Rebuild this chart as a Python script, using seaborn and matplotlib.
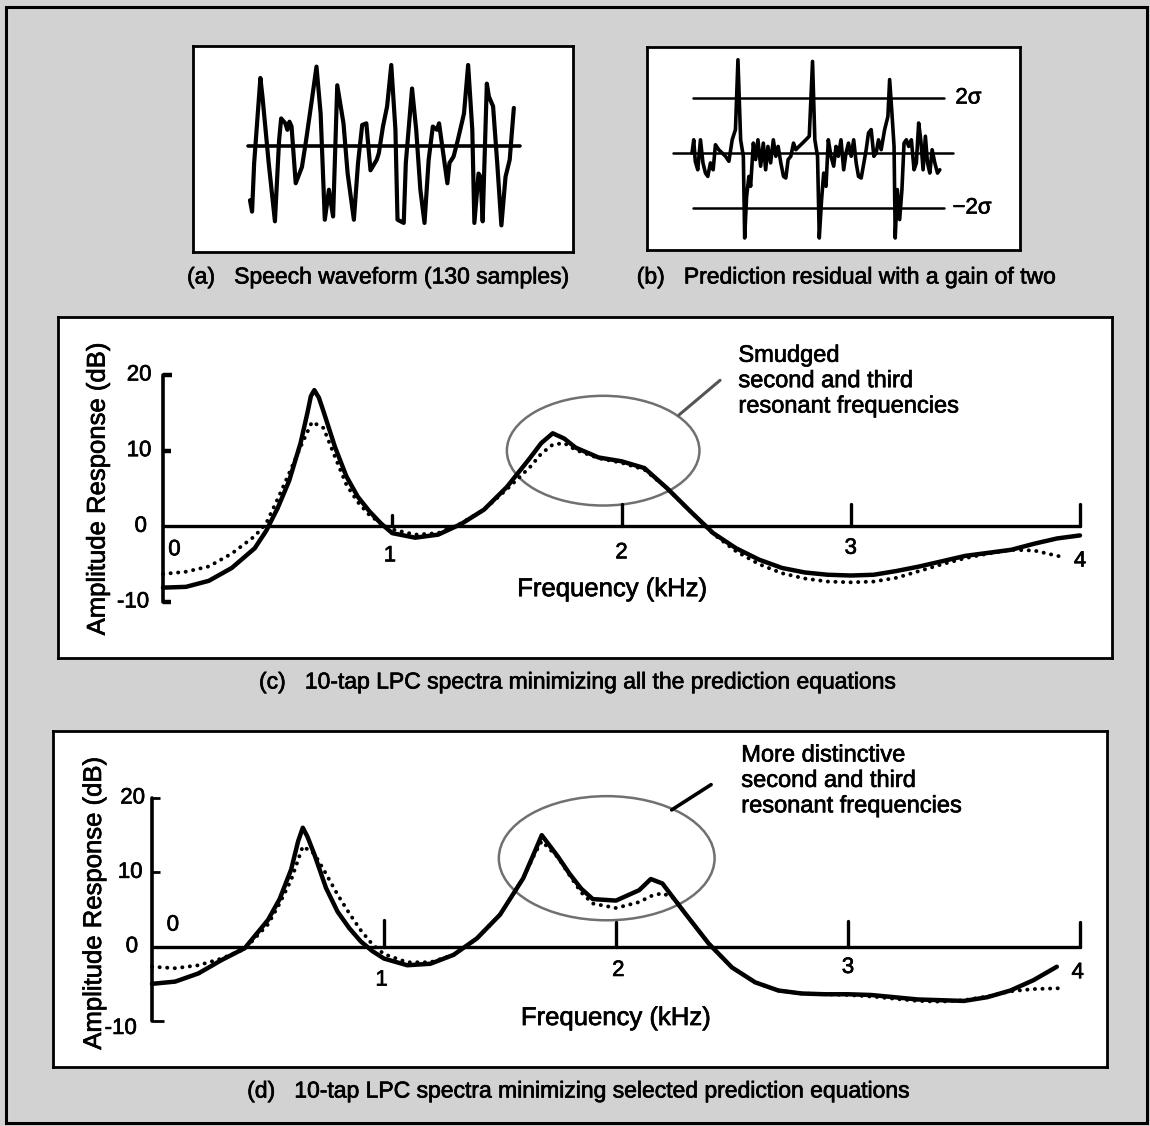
import numpy as np
import pandas as pd
import matplotlib
matplotlib.use("Agg")
import matplotlib.pyplot as plt
import matplotlib.patheffects as pe
from matplotlib.patches import Ellipse, Rectangle
import seaborn as sns

# (a) speech waveform, polyline vertices (sample index, amplitude)
wave_n = [0, 1, 2, 5, 6, 9, 12, 14, 15, 17, 18, 19, 20, 22, 25, 27, 30, 32, 34, 36, 38, 39, 40,
          42, 45, 47, 50, 52, 54, 56, 58, 61, 62, 64, 66, 68, 70, 71, 74, 75, 78, 80, 82, 84,
          86, 88, 90, 91, 95, 96, 98, 100, 103, 105, 107, 108, 110, 111, 112, 114, 115, 117,
          119, 121, 123, 125, 127]
wave_amp = [-0.67, -0.81, -0.21, 0.84, 0.61, -0.21, -0.93, 0.07, 0.34, 0.28, 0.20, 0.30, 0.24,
            -0.46, -0.26, 0.07, 0.61, 0.98, 0.40, -0.91, -0.54, -0.71, -0.87, 0.75, 0.28, -0.34,
            -0.91, -0.21, 0.26, 0.28, -0.30, -0.17, -0.09, 0.24, 0.49, 1.00, 0.20, -0.91, -0.95,
            -0.21, 0.71, 0.20, -0.54, -0.95, -0.17, 0.24, 0.20, 0.28, -0.46, -0.21, -0.13, 0.07,
            0.40, 1.00, 0.20, -0.95, -0.34, -0.38, -0.93, 0.77, 0.61, 0.49, -0.21, -0.98, -0.38,
            -0.17, 0.47]

# (b) prediction residual (sample position, value in sigma units)
resid_n = [0, 0.9, 1.7, 3.0, 4.4, 5.7, 7.0, 8.2, 9.6, 11.0, 12.2, 13.9, 15.7, 17.4, 19.2, 20.9,
           22.6, 23.9, 25.3, 26.7, 27.4, 28.4, 29.6, 30.5, 31.9, 33.1, 34.3, 35.7, 37.1, 38.3,
           39.5, 40.9, 42.3, 43.6, 44.8, 46.2, 47.6, 48.8, 50.0, 51.4, 52.8, 54.0, 55.7, 57.5,
           59.2, 61.0, 62.7, 63.9, 65.3, 66.2, 67.4, 68.5, 69.7, 70.9, 72.3, 73.7, 74.9, 76.1,
           77.5, 78.9, 80.1, 81.4, 82.8, 84.1, 85.4, 86.6, 88.0, 89.4, 90.6, 91.8, 93.2, 94.6,
           95.8, 97.0, 98.4, 100.2, 101.9, 102.8, 104.0, 105.1, 105.7, 106.8, 108.0, 109.2,
           110.3, 111.5, 112.7, 114.1, 115.5, 116.7, 117.9, 119.0, 120.2, 121.4, 122.5, 123.7,
           124.9, 126.3, 127.7, 128.9]
resid_sigma = [0, 0.48, -0.30, -0.61, 0.48, -0.36, -0.73, -0.85, -0.36, -0.61, 0.30, 0.12, 0,
               -0.12, -0.30, 0.48, 0.85, 3.39, 0.48, -0.12, -3.09, -1.58, -0.85, -1.21, 0.36,
               -0.24, 0.48, -0.48, 0.36, -0.61, 0.24, -0.36, 0.48, -0.12, 0.24, -0.36, -0.85,
               -0.91, -0.24, -0.12, 0.36, 0.12, 0.24, 0.36, 0.48, 0.61, 3.33, 0.48, -0.12, -3.09,
               -1.70, -0.73, -1.21, 0.48, -0.12, -0.48, 0.24, -0.12, 0.48, -0.61, 0, 0.36, -0.12,
               0.48, -0.36, -0.85, -0.91, -0.36, 0.12, 0.73, 0.85, -0.12, 0, 0.48, 0.12, 0.85,
               1.33, 2.67, 1.45, 0.24, -3.09, -1.33, -2.42, -1.33, 0.36, 0.48, 0.24, 0.48, -0.61,
               -0.36, 1.09, 0.48, -0.61, 0.61, -0.36, -0.73, 0.12, -0.36, -0.73, -0.61]

# (c) 10-tap LPC spectra, all equations (kHz, dB)
c_solid_f = [0, 0.1, 0.2, 0.3, 0.4, 0.45, 0.5, 0.55, 0.6, 0.63, 0.645, 0.66, 0.68, 0.7, 0.75,
             0.8, 0.85, 0.9, 0.95, 1.0, 1.1, 1.2, 1.3, 1.4, 1.5, 1.6, 1.65, 1.7, 1.75, 1.8, 1.9,
             2.0, 2.1, 2.2, 2.3, 2.4, 2.5, 2.6, 2.7, 2.8, 2.9, 3.0, 3.1, 3.2, 3.3, 3.4, 3.5, 3.6,
             3.7, 3.8, 3.9, 4.0]
c_solid_db = [-8.1, -8.0, -7.2, -5.5, -2.9, -0.6, 2.4, 6.0, 11.0, 15.0, 17.2, 18.0, 17.0, 15.2,
              10.5, 6.6, 3.9, 2.0, 0.4, -0.9, -1.5, -1.1, 0.3, 2.2, 5.2, 9.0, 11.0, 12.3, 11.6,
              10.4, 9.1, 8.6, 7.7, 5.0, 2.0, -0.9, -2.9, -4.4, -5.5, -6.1, -6.4, -6.5, -6.4,
              -5.9, -5.3, -4.6, -3.9, -3.5, -3.1, -2.3, -1.6, -1.2]
c_dot_f = [0, 0.1, 0.2, 0.3, 0.4, 0.45, 0.5, 0.55, 0.6, 0.65, 0.7, 0.75, 0.8, 0.85, 0.9, 0.95,
           1.0, 1.1, 1.2, 1.3, 1.4, 1.5, 1.6, 1.65, 1.7, 1.75, 1.8, 1.9, 2.0, 2.1, 2.2, 2.3, 2.4,
           2.5, 2.6, 2.7, 2.8, 2.9, 3.0, 3.1, 3.2, 3.3, 3.4, 3.5, 3.6, 3.7, 3.8, 3.93]
c_dot_db = [-6.3, -6.0, -5.3, -3.6, -1.3, 0.4, 3.6, 7.0, 10.5, 13.8, 13.0, 9.2, 5.5, 3.2, 1.5,
            0.4, -0.4, -1.1, -0.9, 0.4, 2.2, 4.9, 7.8, 9.6, 10.8, 11.0, 10.1, 9.0, 8.4, 7.5, 5.0,
            2.0, -1.0, -3.3, -5.0, -6.2, -6.9, -7.3, -7.4, -7.3, -6.8, -5.9, -5.0, -4.2, -3.6,
            -3.1, -3.2, -4.1]

# (d) 10-tap LPC spectra, selected equations (kHz, dB)
d_solid_f = [0, 0.1, 0.2, 0.3, 0.4, 0.5, 0.55, 0.6, 0.63, 0.65, 0.67, 0.7, 0.75, 0.8, 0.85, 0.9,
             0.95, 1.0, 1.1, 1.2, 1.3, 1.4, 1.5, 1.6, 1.65, 1.68, 1.75, 1.8, 1.85, 1.9, 2.0, 2.1,
             2.15, 2.2, 2.3, 2.4, 2.5, 2.6, 2.7, 2.8, 2.9, 3.0, 3.1, 3.2, 3.3, 3.4, 3.5, 3.6,
             3.7, 3.8, 3.9]
d_solid_db = [-5.0, -4.7, -3.6, -1.8, -0.2, 3.6, 6.4, 10.4, 14.2, 16.0, 14.8, 12.4, 7.9, 4.7,
              2.5, 0.7, -0.6, -1.6, -2.5, -2.3, -1.1, 1.1, 4.3, 9.2, 12.8, 15.0, 12.1, 9.8, 7.8,
              6.4, 6.2, 7.6, 9.1, 8.5, 4.4, 0.4, -2.8, -4.8, -5.9, -6.3, -6.4, -6.4, -6.5, -6.8,
              -7.1, -7.2, -7.3, -6.8, -5.9, -4.5, -2.7]
d_dot_f = [0, 0.1, 0.2, 0.3, 0.4, 0.5, 0.55, 0.6, 0.65, 0.7, 0.75, 0.8, 0.85, 0.9, 0.95, 1.0,
           1.1, 1.2, 1.3, 1.4, 1.5, 1.6, 1.65, 1.68, 1.75, 1.8, 1.85, 1.9, 2.0, 2.1, 2.15, 2.2,
           2.25, 2.3, 2.4, 2.5, 2.6, 2.7, 2.8, 2.9, 3.0, 3.1, 3.2, 3.3, 3.4, 3.5, 3.6, 3.7, 3.8,
           3.91]
d_dot_db = [-2.7, -2.9, -2.5, -1.6, -0.3, 3.0, 5.8, 9.0, 13.5, 12.5, 9.8, 7.0, 4.5, 2.2, 0.3,
            -1.0, -2.1, -2.1, -1.1, 1.1, 4.3, 9.2, 12.5, 14.2, 12.0, 9.6, 7.3, 5.8, 5.2, 6.0, 6.8,
            7.2, 6.5, 4.4, 0.4, -2.8, -4.8, -5.9, -6.3, -6.4, -6.5, -6.7, -7.0, -7.3, -7.4, -7.2,
            -6.7, -6.0, -5.7, -5.6]

x_tick_labels = ["0", "1", "2", "3", "4"]
y_ticks = [20, 10, 0, -10]

W, H = 1150, 1126
BG = "#d2d2d2"

sns.set_style("white")
plt.rcParams["font.family"] = ["Liberation Sans", "DejaVu Sans"]
plt.rcParams["text.color"] = "black"

fig = plt.figure(figsize=(W / 100, H / 100), dpi=100)
fig.patch.set_facecolor(BG)
fig.patches.append(Rectangle((6 / W, 1 - 1123 / H), 1141 / W, 1116 / H, transform=fig.transFigure,
                             fill=False, lw=2.2, ec="black"))


def px_axes(x0, y0, x1, y1):
    ax = fig.add_axes([x0 / W, 1 - y1 / H, (x1 - x0) / W, (y1 - y0) / H])
    ax.set_facecolor("white")
    ax.set_xticks([])
    ax.set_yticks([])
    for s in ax.spines.values():
        s.set_visible(True)
        s.set_color("black")
        s.set_linewidth(2.0)
    return ax


# ---- (a) speech waveform
box_a = (193, 46, 573, 252)
ax_a = px_axes(*box_a)
kx = (518 - 250) / 129
ky = 81
ax_a.set_xlim(-(250 - box_a[0]) / kx, 129 + (box_a[2] - 518) / kx)
ax_a.set_ylim(-(box_a[3] - 146) / ky, (146 - box_a[1]) / ky)
ax_a.plot([-1, 130], [0, 0], color="black", lw=2.6, solid_capstyle="round")
sns.lineplot(x=wave_n, y=wave_amp, ax=ax_a, color="black", lw=3.0, sort=False, estimator=None)
ax_a.set_xlabel("")
ax_a.set_ylabel("")

# ---- (b) prediction residual
box_b = (647, 47, 1020, 250)
ax_b = px_axes(*box_b)
kx = 248 / 129
ky = 27.5
ax_b.set_xlim(-(692 - box_b[0]) / kx, (box_b[2] - 692) / kx)
ax_b.set_ylim(-(box_b[3] - 153) / ky, (153 - box_b[1]) / ky)
ax_b.plot([0.5, 131], [2, 2], color="black", lw=1.8)
ax_b.plot([0.5, 131], [-2, -2], color="black", lw=1.8)
ax_b.plot([-10, 136], [0, 0], color="black", lw=1.8)
sns.lineplot(x=resid_n, y=resid_sigma, ax=ax_b, color="black", lw=2.6, sort=False, estimator=None)
ax_b.text(137, 2, "2σ", fontsize=16, va="center", ha="left")
ax_b.text(135.5, -2, "\u22122σ", fontsize=16, va="center", ha="left")
ax_b.set_xlabel("")
ax_b.set_ylabel("")


# ---- (c) and (d) spectra
def spectrum_panel(box, x0px, x4px, y20px, ym10px, solid_f, solid_db, dot_f, dot_db, cfg):
    ax = px_axes(*box)
    kx = (x4px - x0px) / 4
    ky = (ym10px - y20px) / 30
    y0px = y20px + 20 * ky
    ax.set_xlim((box[0] - x0px) / kx, (box[2] - x0px) / kx)
    ax.set_ylim((y0px - box[3]) / ky, (y0px - box[1]) / ky)

    # hand-drawn style axes
    ax.plot([0, 0], [-10, 20], color="black", lw=2.6)
    for yt, ln in cfg["ystubs"]:
        ax.plot([0, ln], [yt, yt], color="black", lw=cfg["stub_lw"], solid_capstyle="butt")
    ax.plot([0, 4], [0, 0], color="black", lw=2.4)
    for xt, h in zip([1, 2, 3, 4], cfg["xtick_h"]):
        ax.plot([xt, xt], [0, h], color="black", lw=2.4)
    for lab, pos in zip(x_tick_labels, cfg["xlab_pos"]):
        ax.text(pos[0], pos[1], lab, fontsize=16, ha="center", va="center")
    for yt, xpos in zip(y_ticks, cfg["ylab_x"]):
        ax.text(xpos, yt + cfg["ylab_dy"].get(yt, 0), str(yt), fontsize=16, ha="right", va="center")
    ax.text(cfg["ylabel_pos"][0], cfg["ylabel_pos"][1], "Amplitude Response (dB)", fontsize=18.5,
            rotation=90, ha="center", va="center")
    ax.text(cfg["xlabel_pos"][0], cfg["xlabel_pos"][1], "Frequency (kHz)", fontsize=18.5,
            ha="center", va="center")

    dotted = sns.lineplot(x=dot_f, y=dot_db, ax=ax, color="black", lw=2.8, sort=False,
                          estimator=None)
    ln_dot = dotted.lines[-1]
    ln_dot.set_linestyle((0, (0.05, 1.9)))
    ln_dot.set_dash_capstyle("round")
    sns.lineplot(x=solid_f, y=solid_db, ax=ax, color="black", lw=3.2, sort=False, estimator=None)

    ec, ew, eh = cfg["ellipse"]
    ax.add_patch(Ellipse(ec, ew, eh, fill=False, ec="#707070", lw=1.8))
    (lx0, ly0), (lx1, ly1) = cfg["leader"]
    ax.plot([lx0, lx1], [ly0, ly1], color=cfg["leader_color"], lw=cfg["leader_lw"])
    ax.text(cfg["note_pos"][0], cfg["note_pos"][1], cfg["note"], fontsize=17, ha="left",
            va="top", linespacing=1.2)
    ax.set_xlabel("")
    ax.set_ylabel("")
    return ax


cfg_c = {
    "ystubs": [(20, 0.04), (10, 0.035), (-10, 0.035)],
    "stub_lw": 3.2,
    "xtick_h": [1.5, 3.0, 3.0, 3.0],
    "xlab_pos": [(0.05, -3.1), (0.99, -3.9), (2.0, -3.5), (3.0, -2.9), (4.0, -4.6)],
    "ylab_x": [-0.05, -0.05, -0.07, -0.06],
    "ylab_dy": {},
    "ylabel_pos": (-0.285, 5.0),
    "xlabel_pos": (1.96, -8.3),
    "ellipse": ((1.92, 10.0), 0.84, 14.5),
    "leader": ((2.25, 14.7), (2.43, 19.3)),
    "leader_color": "#555555",
    "leader_lw": 2.2,
    "note_pos": (2.51, 24.0),
    "note": "Smudged\nsecond and third\nresonant frequencies",
}
spectrum_panel((58, 317, 1112, 658), 163, 1080, 375, 602,
               c_solid_f, c_solid_db, c_dot_f, c_dot_db, cfg_c)

cfg_d = {
    "ystubs": [(20, 0.035), (10, 0.035), (-10, 0.05)],
    "stub_lw": 2.0,
    "xtick_h": [3.6, 3.3, 3.5, 3.3],
    "xlab_pos": [(0.09, 2.9), (0.99, -4.5), (2.01, -3.2), (3.0, -2.8), (3.99, -3.5)],
    "ylab_x": [-0.03, -0.04, -0.06, -0.065],
    "ylab_dy": {-10: -1.0},
    "ylabel_pos": (-0.25, 5.9),
    "xlabel_pos": (2.0, -9.6),
    "ellipse": ((1.96, 11.9), 0.93, 16.7),
    "leader": ((2.24, 18.4), (2.41, 21.8)),
    "leader_color": "black",
    "leader_lw": 2.6,
    "note_pos": (2.54, 27.2),
    "note": "More distinctive\nsecond and third\nresonant frequencies",
}
spectrum_panel((53, 731, 1107, 1067), 152, 1080, 798, 1021,
               d_solid_f, d_solid_db, d_dot_f, d_dot_db, cfg_d)

# ---- captions
fig.text(378 / W, 1 - 277 / H, "(a)   Speech waveform (130 samples)", fontsize=16.5,
         ha="center", va="center")
fig.text(846 / W, 1 - 277 / H, "(b)   Prediction residual with a gain of two", fontsize=16.5,
         ha="center", va="center")
fig.text(577 / W, 1 - 682 / H, "(c)   10-tap LPC spectra minimizing all the prediction equations",
         fontsize=16.5, ha="center", va="center")
fig.text(578 / W, 1 - 1091 / H,
         "(d)   10-tap LPC spectra minimizing selected prediction equations",
         fontsize=16.5, ha="center", va="center")

# slightly heavier strokes, like the printed original
for t in fig.findobj(matplotlib.text.Text):
    if t.get_text():
        t.set_path_effects([pe.withStroke(linewidth=0.5, foreground="black")])

fig.savefig("out.png", dpi=100, facecolor=BG)
